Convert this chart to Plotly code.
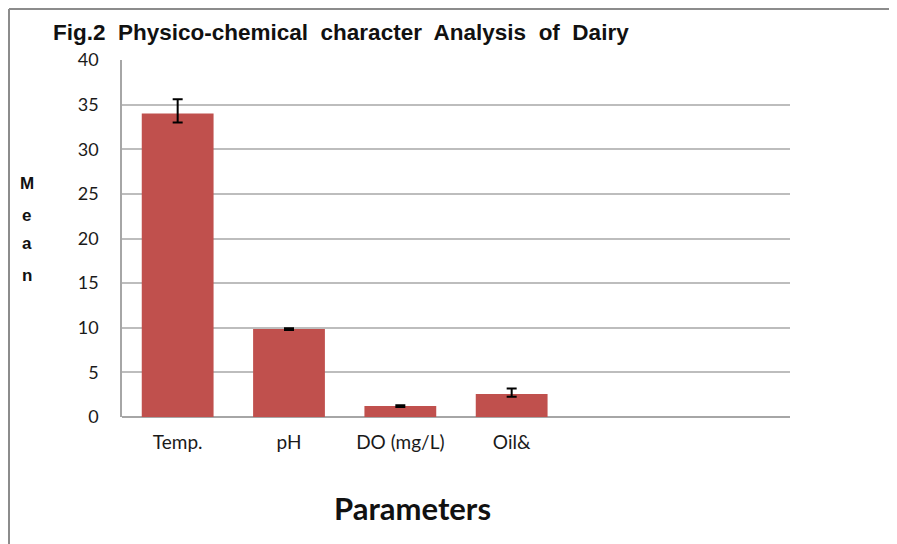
import plotly.graph_objects as go

categories = ["Temp.", "pH", "DO (mg/L)", "Oil&"]
means = [34.0, 9.85, 1.23, 2.58]
err_plus = [1.6, 0.1, 0.1, 0.6]
err_minus = [1.0, 0.1, 0.1, 0.3]
y_ticks = [0, 5, 10, 15, 20, 25, 30, 35, 40]

# page offset (browser body margin)
OFF = 8
W, H = 897 - OFF, 544 - OFF
L, R, T, B = 122 - OFF, 790 - OFF, 60 - OFF, 417 - OFF

def px(x):
    return (x - OFF - L) / (R - L)

def py(y):
    return (B - (y - OFF)) / (B - T)

fig = go.Figure()
fig.add_trace(go.Bar(
    x=categories, y=means,
    marker=dict(color="#C0504D", line=dict(width=0)),
    error_y=dict(type="data", symmetric=False, array=err_plus, arrayminus=err_minus,
                 color="#000000", thickness=2, width=5),
    width=0.645,
))

fig.update_layout(
    width=W, height=H,
    margin=dict(l=L, r=W - R, t=T, b=H - B),
    paper_bgcolor="white", plot_bgcolor="white",
    showlegend=False,
    font=dict(family="Lato, Open Sans, sans-serif", color="#1a1a1a"),
    xaxis=dict(range=[-0.5, 5.5], type="category", showgrid=False,
               showline=False, zeroline=False, ticks="",
               tickfont=dict(size=19, family="Lato, Open Sans, sans-serif"),
               ticklabelstandoff=12),
    yaxis=dict(range=[0, 40], tickvals=y_ticks, showgrid=True, gridcolor="#BDBDBD",
               gridwidth=1.5, showline=True, linecolor="#A6A6A6", linewidth=1.5,
               zeroline=True, zerolinecolor="#A6A6A6", zerolinewidth=2,
               ticks="", tickfont=dict(size=18, family="Lato, Open Sans, sans-serif"),
               ticklabelstandoff=18),
)

# frame lines (left and top)
fig.add_shape(type="line", xref="paper", yref="paper",
              x0=px(9), x1=px(9), y0=py(OFF + 1), y1=py(H + 2 * OFF),
              line=dict(color="#8C8C8C", width=2))
fig.add_shape(type="line", xref="paper", yref="paper",
              x0=px(9), x1=px(W + 2 * OFF), y0=py(OFF + 1), y1=py(OFF + 1),
              line=dict(color="#8C8C8C", width=2))

fig.add_annotation(text="<b>Fig.2  Physico-chemical  character  Analysis  of  Dairy</b>",
                   xref="paper", yref="paper", x=px(51), y=py(32),
                   xanchor="left", yanchor="middle", showarrow=False,
                   font=dict(family="Liberation Sans, Arial", size=22.5, color="#111111"))

mean_y = [183, 215, 244, 275]
for ch, yy in zip(["M", "e", "a", "n"], mean_y):
    fig.add_annotation(text="<b>%s</b>" % ch, xref="paper", yref="paper",
                       x=px(27), y=py(yy), xanchor="center", yanchor="middle",
                       showarrow=False,
                       font=dict(family="Liberation Sans, Arial", size=17,
                                 color="#111111"))

fig.add_annotation(text="<b>Parameters</b>", xref="paper", yref="paper",
                   x=px(412), y=py(508), xanchor="center", yanchor="middle",
                   showarrow=False,
                   font=dict(family="Lato, Open Sans, sans-serif", size=31, color="#111111"))

fig.write_html("out.html")
